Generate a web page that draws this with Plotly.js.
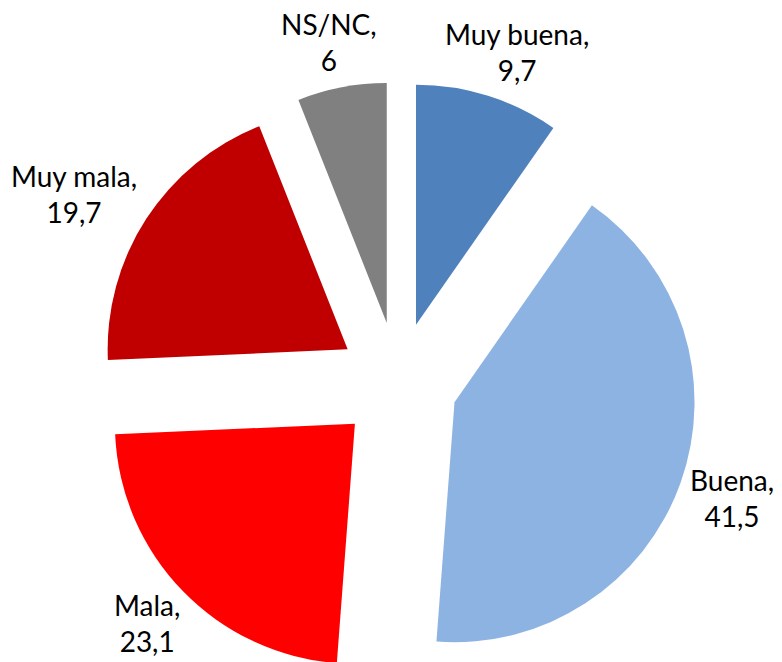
<!DOCTYPE html>
<html>
<head>
<meta charset="utf-8">
<script src="https://cdn.plot.ly/plotly-3.0.1.min.js"></script>
<style>
html, body { margin: 0; padding: 0; overflow: hidden; background: #fff; }
#wrap { width: 782px; height: 662px; overflow: hidden; }
</style>
</head>
<body>
<div id="wrap"><div id="chart"></div></div>
<script>
const categories = ["Muy buena", "Buena", "Mala", "Muy mala", "NS/NC"];
const values = [9.7, 41.5, 23.1, 19.7, 6];
const colors = ["#4F81BD", "#8DB3E2", "#FF0000", "#C00000", "#808080"];

const PULL = 0.25;
const FONT_FAMILY = "Lato, 'Open Sans', sans-serif";
const FONT_SIZE = 28;

function fmt(v) { return String(v).replace(".", ","); }

const trace = {
  type: "pie",
  labels: categories,
  values: values,
  sort: false,
  direction: "clockwise",
  rotation: 0,
  pull: PULL,
  marker: { colors: colors, line: { width: 0 } },
  textinfo: "none",
  hoverinfo: "label+value"
};

const layout = {
  width: 782,
  height: 764,
  margin: { l: 98, r: 84, t: 82, b: 82 },
  showlegend: false,
  separators: ",.",
  paper_bgcolor: "#ffffff",
  plot_bgcolor: "#ffffff",
  font: { family: FONT_FAMILY, color: "#000", size: FONT_SIZE }
};

const gd = document.getElementById("chart");
Plotly.newPlot(gd, [trace], layout, { staticPlot: true, displayModeBar: false }).then(function () {
  const fs = gd._fullLayout._size;
  const cd0 = gd.calcdata[0][0];
  const r = cd0.r !== undefined ? cd0.r : Math.min(fs.w, fs.h) / 2 / (1 + PULL);
  const cx = cd0.cx !== undefined ? cd0.cx : fs.l + fs.w / 2;
  const cy = cd0.cy !== undefined ? cd0.cy : fs.t + fs.h / 2;
  const total = values.reduce(function (a, b) { return a + b; }, 0);
  const ctx = document.createElement("canvas").getContext("2d");
  ctx.font = FONT_SIZE + "px Lato";
  let cum = 0;
  const anns = categories.map(function (c, i) {
    const mid = (cum + values[i] / 2) / total * 2 * Math.PI;
    cum += values[i];
    const s = Math.sin(mid), co = Math.cos(mid);
    const pcx = cx + PULL * r * s, pcy = cy - PULL * r * co;
    const ax = pcx + (r + 10) * s, ay = pcy - (r + 10) * co;
    const line1 = c + ",", line2 = fmt(values[i]);
    const hw = Math.max(ctx.measureText(line1).width, ctx.measureText(line2).width) / 2;
    const hh = 36;
    const fx = Math.max(-1, Math.min(1, 1.2 * s));
    const px = ax + hw * fx, py = ay - hh * co;
    return {
      xref: "paper", yref: "paper",
      x: (px - fs.l) / fs.w, y: 1 - (py - fs.t) / fs.h,
      text: line1 + "<br>" + line2,
      showarrow: false, xanchor: "center", yanchor: "middle", align: "center",
      font: { family: FONT_FAMILY, size: FONT_SIZE, color: "#000" }
    };
  });
  return Plotly.relayout(gd, { annotations: anns });
});
</script>
</body>
</html>
